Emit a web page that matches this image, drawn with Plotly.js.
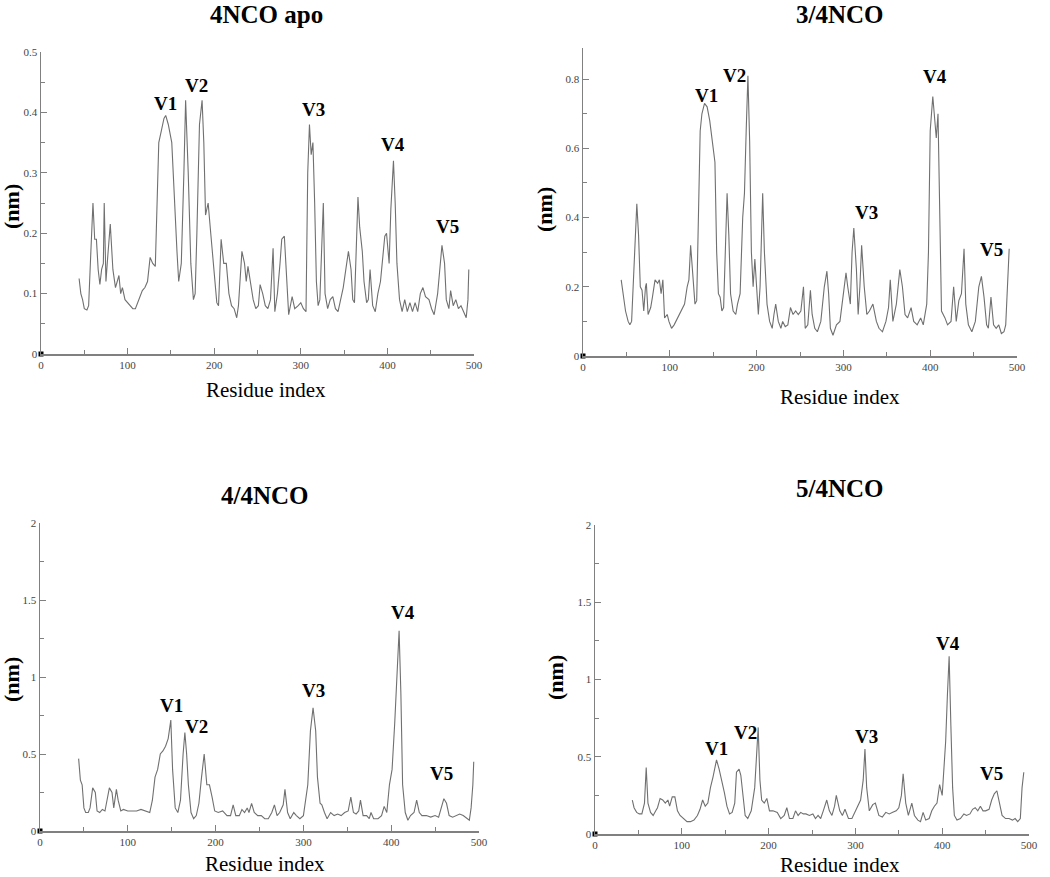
<!DOCTYPE html>
<html>
<head>
<meta charset="utf-8">
<script src="https://cdn.plot.ly/plotly-3.0.1.min.js"></script>
<style>html,body{margin:0;padding:0;background:#fff;}#chart{width:1050px;height:877px;}</style>
</head>
<body>
<div id="chart"></div>
<script>
// ---- data ----
const panelTitles = ["4NCO apo", "3/4NCO", "4/4NCO", "5/4NCO"];
const peakNames = ["V1", "V2", "V3", "V4", "V5"];

const apoX = [44,46,48,50,53,55,57,59,60,62,64,66,68,70,72,73,75,77,80,81,83,86,88,90,92,94,97,100,103,106,109,113,117,120,123,126,129,132,134,136,139,142,144,147,151,154,157,159,162,165,167,170,173,176,178,180,183,186,188,190,193,196,199,201,203,205,208,211,214,217,220,223,226,228,232,235,237,239,242,245,248,251,253,256,259,262,265,268,270,273,276,278,281,283,286,290,293,297,300,303,306,308,310,312,314,316,318,320,322,326,328,331,334,337,340,343,346,349,352,355,358,360,362,364,366,368,371,373,376,378,380,383,386,389,392,394,397,399,402,404,407,409,411,414,417,420,423,426,429,432,435,438,441,444,448,451,454,458,461,463,466,468,471,473,476,479,482,485,488,491,493,494];
const apoY = [0.125,0.10,0.09,0.075,0.073,0.08,0.15,0.23,0.25,0.19,0.19,0.14,0.115,0.14,0.15,0.25,0.12,0.16,0.215,0.19,0.14,0.11,0.12,0.13,0.10,0.11,0.09,0.085,0.08,0.075,0.075,0.09,0.105,0.11,0.12,0.16,0.15,0.145,0.25,0.35,0.37,0.39,0.395,0.38,0.35,0.25,0.17,0.12,0.15,0.30,0.42,0.30,0.15,0.09,0.10,0.20,0.38,0.42,0.35,0.23,0.25,0.20,0.15,0.12,0.085,0.08,0.19,0.15,0.15,0.10,0.08,0.075,0.06,0.08,0.17,0.15,0.12,0.145,0.12,0.09,0.075,0.08,0.115,0.10,0.08,0.075,0.09,0.175,0.07,0.10,0.15,0.19,0.195,0.14,0.065,0.095,0.075,0.08,0.085,0.075,0.07,0.30,0.38,0.33,0.35,0.25,0.12,0.08,0.09,0.25,0.10,0.075,0.09,0.095,0.075,0.07,0.09,0.11,0.14,0.17,0.14,0.09,0.085,0.16,0.26,0.21,0.17,0.12,0.085,0.09,0.14,0.08,0.07,0.10,0.12,0.15,0.195,0.20,0.15,0.24,0.32,0.25,0.15,0.09,0.07,0.09,0.07,0.085,0.07,0.085,0.07,0.10,0.11,0.095,0.09,0.075,0.065,0.10,0.15,0.18,0.15,0.09,0.075,0.105,0.08,0.09,0.075,0.08,0.07,0.06,0.09,0.14];

const nco3X = [44,46,49,52,54,56,58,60,62,64,66,68,70,72,73,75,78,80,83,86,88,90,92,94,97,99,102,105,109,113,117,120,122,124,127,129,131,133,135,137,140,143,146,149,152,154,156,158,160,162,164,166,168,170,173,176,178,181,184,186,188,190,192,194,196,198,200,202,204,207,209,212,215,218,220,222,225,228,230,233,236,239,242,245,248,251,254,256,259,262,264,267,270,274,278,281,283,285,288,292,296,300,303,305,308,310,312,315,317,319,321,324,327,330,334,338,341,345,349,352,354,357,361,365,368,371,374,378,381,385,389,392,396,398,400,403,405,407,409,411,413,417,420,424,427,430,433,436,439,441,444,448,452,456,459,462,465,467,470,473,476,479,482,485,487,489,491];
const nco3Y = [0.22,0.18,0.13,0.10,0.09,0.10,0.20,0.30,0.44,0.35,0.20,0.19,0.13,0.20,0.21,0.12,0.14,0.17,0.22,0.21,0.22,0.18,0.22,0.11,0.12,0.10,0.08,0.09,0.11,0.13,0.15,0.20,0.22,0.32,0.22,0.15,0.16,0.40,0.65,0.70,0.73,0.72,0.68,0.62,0.56,0.30,0.18,0.17,0.13,0.14,0.30,0.47,0.35,0.18,0.13,0.12,0.15,0.18,0.40,0.47,0.65,0.81,0.62,0.30,0.20,0.28,0.20,0.12,0.20,0.47,0.30,0.15,0.10,0.08,0.12,0.15,0.10,0.08,0.10,0.085,0.09,0.14,0.12,0.13,0.12,0.13,0.20,0.08,0.09,0.19,0.12,0.08,0.07,0.10,0.20,0.245,0.18,0.08,0.06,0.09,0.10,0.18,0.24,0.20,0.15,0.30,0.37,0.25,0.12,0.20,0.32,0.20,0.12,0.13,0.15,0.10,0.08,0.07,0.10,0.14,0.22,0.10,0.15,0.25,0.20,0.12,0.11,0.14,0.10,0.09,0.11,0.09,0.15,0.30,0.65,0.75,0.70,0.63,0.70,0.40,0.13,0.11,0.09,0.10,0.20,0.10,0.16,0.18,0.31,0.15,0.09,0.07,0.10,0.20,0.23,0.17,0.09,0.08,0.17,0.09,0.08,0.09,0.065,0.07,0.09,0.20,0.31];

const nco4X = [44,46,48,50,52,55,57,60,63,65,68,71,74,76,79,82,84,87,89,92,95,100,105,110,115,120,125,128,131,134,137,140,143,146,149,151,154,157,160,163,165,167,169,172,175,178,181,184,187,190,193,196,199,203,208,213,217,220,223,227,230,233,236,238,241,244,248,252,256,260,264,267,270,273,277,279,282,285,289,292,296,300,305,308,311,314,316,319,321,324,327,331,335,339,343,347,351,354,357,360,363,365,368,372,375,377,380,385,389,392,395,398,401,404,407,409,411,413,416,419,422,426,429,432,435,440,445,450,454,457,460,463,466,470,474,478,482,486,489,491,493,494];
const nco4Y = [0.47,0.33,0.30,0.15,0.12,0.12,0.15,0.28,0.25,0.13,0.12,0.14,0.13,0.20,0.28,0.25,0.15,0.27,0.20,0.13,0.14,0.13,0.13,0.13,0.14,0.13,0.12,0.20,0.35,0.40,0.50,0.52,0.55,0.60,0.72,0.40,0.15,0.12,0.20,0.50,0.64,0.50,0.30,0.12,0.08,0.10,0.18,0.35,0.50,0.30,0.30,0.22,0.13,0.12,0.13,0.10,0.10,0.17,0.10,0.10,0.14,0.12,0.15,0.12,0.18,0.12,0.10,0.10,0.08,0.08,0.12,0.17,0.10,0.12,0.17,0.27,0.12,0.08,0.12,0.10,0.08,0.10,0.30,0.65,0.80,0.65,0.35,0.18,0.17,0.12,0.08,0.12,0.10,0.11,0.10,0.12,0.13,0.22,0.12,0.11,0.13,0.20,0.10,0.10,0.08,0.12,0.08,0.08,0.10,0.16,0.12,0.30,0.40,0.70,1.10,1.30,0.90,0.30,0.12,0.07,0.10,0.12,0.20,0.12,0.10,0.10,0.09,0.10,0.09,0.15,0.21,0.18,0.10,0.09,0.10,0.11,0.10,0.08,0.07,0.15,0.30,0.45];

const nco5X = [43,45,48,51,54,57,59,61,64,67,70,72,75,78,81,84,86,89,92,95,98,102,106,110,114,118,121,124,127,130,133,136,140,143,146,149,152,155,158,161,163,166,168,171,173,176,180,184,186,188,190,192,195,198,201,205,210,214,218,221,224,228,231,234,237,240,243,247,251,254,257,260,263,267,270,273,276,278,282,285,288,292,296,300,303,306,309,311,313,316,320,323,327,331,335,339,343,347,350,353,355,358,361,365,368,372,375,378,381,385,388,391,394,397,400,402,404,406,408,410,412,414,417,421,425,428,432,435,438,441,444,447,450,454,457,460,463,466,469,473,477,481,484,487,490,492,494];
const nco5Y = [0.22,0.17,0.14,0.13,0.13,0.20,0.43,0.20,0.14,0.12,0.15,0.17,0.23,0.22,0.20,0.22,0.18,0.24,0.24,0.15,0.12,0.10,0.08,0.08,0.09,0.12,0.16,0.22,0.18,0.20,0.30,0.37,0.48,0.42,0.35,0.27,0.18,0.13,0.14,0.20,0.40,0.42,0.38,0.20,0.12,0.10,0.15,0.30,0.50,0.69,0.35,0.22,0.20,0.23,0.15,0.15,0.14,0.10,0.12,0.17,0.10,0.10,0.15,0.12,0.14,0.13,0.13,0.12,0.13,0.10,0.12,0.10,0.15,0.22,0.15,0.12,0.18,0.25,0.15,0.12,0.16,0.10,0.10,0.15,0.18,0.22,0.35,0.55,0.30,0.15,0.19,0.20,0.12,0.11,0.14,0.13,0.14,0.15,0.17,0.25,0.39,0.20,0.12,0.20,0.12,0.09,0.08,0.14,0.09,0.10,0.15,0.18,0.20,0.32,0.25,0.40,0.60,0.90,1.15,0.70,0.30,0.12,0.09,0.10,0.13,0.12,0.13,0.16,0.17,0.15,0.18,0.15,0.15,0.16,0.22,0.26,0.28,0.20,0.12,0.10,0.10,0.09,0.10,0.08,0.10,0.30,0.40];

// peak label positions (residue, nm) for V1..V5 in each panel
const labelX = [[144,180,315,407,469],[142,175,327,406,471],[150,178,311,414,457],[140,173,313,407,457]];
const labelY = [[0.415,0.445,0.404,0.347,0.211],[0.754,0.81,0.414,0.809,0.308],[0.817,0.68,0.915,1.42,0.374],[0.556,0.657,0.63,1.235,0.394]];

const yMax = [0.5, 0.89, 2, 2];
const yDtick = [0.1, 0.2, 0.5, 0.5];
const yMinor = [0.05, 0.1, 0.25, 0.25];

// ---- layout geometry (pixels) ----
const W = 1050, H = 877;
const boxes = [
  {l:41, r:474, t:52, b:354, title:[266,14], xl:[266,390], yl:[11,207]},
  {l:583, r:1017, t:48, b:356, title:[840,14], xl:[840,397], yl:[545,210]},
  {l:40, r:479, t:523, b:831, title:[265,495], xl:[265,864], yl:[11,680]},
  {l:595, r:1029, t:525, b:834, title:[840,489], xl:[840,865], yl:[555,678]}
];
const xs = [apoX, nco3X, nco4X, nco5X];
const ys = [apoY, nco3Y, nco4Y, nco5Y];

const serif = "Liberation Serif, Times New Roman, serif";
const lineColor = "#707070";
const data = [];
const layout = {
  width: W, height: H,
  margin: {l:0, r:0, t:0, b:0},
  paper_bgcolor: "#fff", plot_bgcolor: "#fff",
  showlegend: false,
  annotations: []
};
const px = v => v / W, py = v => 1 - v / H;

boxes.forEach((b, i) => {
  const n = i === 0 ? "" : String(i + 1);
  const xa = "x" + n, ya = "y" + n;
  data.push({x: xs[i], y: ys[i], xaxis: xa, yaxis: ya, type: "scatter", mode: "lines",
             line: {color: lineColor, width: 1.1}, hoverinfo: "skip"});
  data.push({x: [0], y: [0], xaxis: xa, yaxis: ya, type: "scatter", mode: "markers",
             marker: {symbol: "square", size: 5, color: "#000"}, cliponaxis: false, hoverinfo: "skip"});
  const axisCommon = {
    showline: true, linecolor: "#808080", linewidth: 1.5, showgrid: false, zeroline: false,
    ticks: "inside", ticklen: 6, tickcolor: "#808080", tickwidth: 1,
    tickfont: {family: serif, size: 11, color: "#444"}, fixedrange: true
  };
  layout["xaxis" + n] = Object.assign({}, axisCommon, {
    domain: [px(b.l), px(b.r)], range: [0, 500], anchor: ya,
    tick0: 0, dtick: 100, minor: {dtick: 50, ticks: "inside", ticklen: 4, tickcolor: "#808080"}
  });
  layout["yaxis" + n] = Object.assign({}, axisCommon, {
    domain: [py(b.b), py(b.t)], range: [0, yMax[i]], anchor: xa,
    tick0: 0, dtick: yDtick[i], minor: {dtick: yMinor[i], ticks: "inside", ticklen: 4, tickcolor: "#808080"}
  });
  layout.annotations.push({text: "<b>" + panelTitles[i] + "</b>", xref: "paper", yref: "paper",
    x: px(b.title[0]), y: py(b.title[1]), xanchor: "center", yanchor: "middle", showarrow: false,
    font: {family: serif, size: 25, color: "#000"}});
  layout.annotations.push({text: "Residue index", xref: "paper", yref: "paper",
    x: px(b.xl[0]), y: py(b.xl[1]), xanchor: "center", yanchor: "middle", showarrow: false,
    font: {family: serif, size: 21, color: "#000"}});
  layout.annotations.push({text: "<b>(nm)</b>", xref: "paper", yref: "paper", textangle: -90,
    x: px(b.yl[0]), y: py(b.yl[1]), xanchor: "center", yanchor: "middle", showarrow: false,
    font: {family: serif, size: 22, color: "#000"}});
  peakNames.forEach((nm, k) => {
    layout.annotations.push({text: "<b>" + nm + "</b>", xref: xa, yref: ya,
      x: labelX[i][k], y: labelY[i][k], xanchor: "center", yanchor: "middle", showarrow: false,
      font: {family: serif, size: 19, color: "#000"}});
  });
});

Plotly.newPlot("chart", data, layout, {displayModeBar: false, staticPlot: true});
</script>
</body>
</html>
